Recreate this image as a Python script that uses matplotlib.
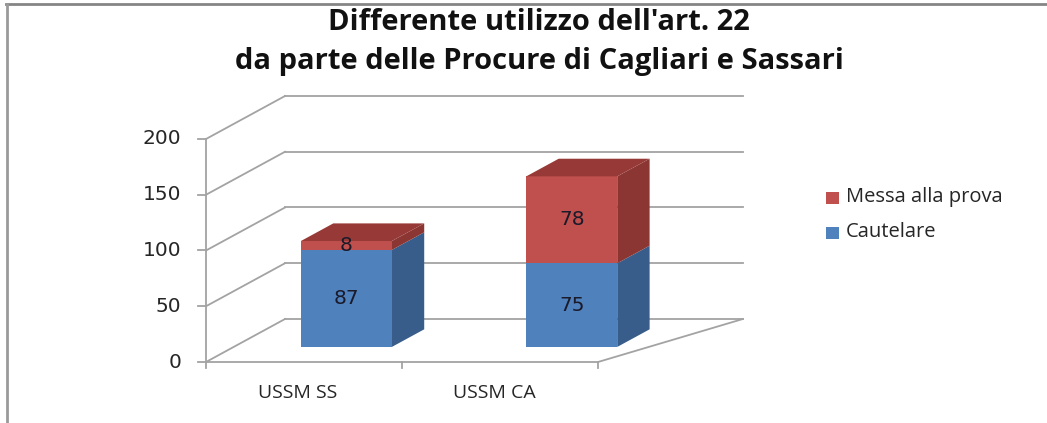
import numpy as np
import matplotlib
matplotlib.use("Agg")
import matplotlib.pyplot as plt
from matplotlib.patches import Polygon
from matplotlib.lines import Line2D

# data
categories = ["USSM SS", "USSM CA"]
cautelare = [87, 75]
messa_prova = [8, 78]
series_names = ["Cautelare", "Messa alla prova"]
yticks = [0, 50, 100, 150, 200]

title_lines = ["Differente utilizzo dell'art. 22",
               "da parte delle Procure di Cagliari e Sassari"]

W, H = 1047, 423
fig = plt.figure(figsize=(W / 100, H / 100), dpi=100)

# front plane: x=0 at px 206, 196 px per category; y=0 at px 362, 1.115 px per unit
px0, py0, sx, sy = 206, 362, 196.0, 1.115
ax_l, ax_r, ax_t, ax_b = 150, 770, 80, 405
ax = fig.add_axes([ax_l / W, 1 - ax_b / H, (ax_r - ax_l) / W, (ax_b - ax_t) / H])
ax.set_xlim((ax_l - px0) / sx, (ax_r - px0) / sx)
ax.set_ylim((py0 - ax_b) / sy, (py0 - ax_t) / sy)
ax.axis("off")

# oblique depth (full depth = 79 px right, 43 px up)
DX, DY = 79 / sx, 43 / sy
ymax = 200
n = len(categories)
back_stretch = 1.168  # back wall a bit wider (Excel perspective)


def proj(x, y, z):
    return (x + z * DX, y + z * DY)


grid_c = "#a3a3a3"
glw = 1.3
txt_c = "#262626"

# back wall gridlines + left wall diagonals
for y in yticks:
    a = proj(0, y, 1)
    b = proj(n * back_stretch, y, 1)
    ax.add_line(Line2D([a[0], b[0]], [a[1], b[1]], color=grid_c, lw=glw))
    c = proj(0, y, 0)
    ax.add_line(Line2D([c[0], a[0]], [c[1], a[1]], color=grid_c, lw=glw))
    # y tick
    ax.add_line(Line2D([c[0] - 8 / sx, c[0]], [y, y], color=grid_c, lw=glw))
    ax.text(c[0] - 25 / sx, y, str(y), ha="right", va="center",
            fontsize=14.5, color=txt_c, family="DejaVu Sans")

# left axis and floor
ax.add_line(Line2D([0, 0], [0, ymax], color=grid_c, lw=glw))
ax.add_line(Line2D([0, n], [0, 0], color=grid_c, lw=glw))
fr = proj(n * back_stretch, 0, 1)
ax.add_line(Line2D([n, fr[0]], [0, fr[1]], color=grid_c, lw=glw))
for i in range(n + 1):
    ax.add_line(Line2D([i, i], [0, -6 / sy], color=grid_c, lw=glw))
for i, cat in enumerate(categories):
    ax.text(i + 0.47, -31 / sy, cat, ha="center", va="center",
            fontsize=14, color=txt_c, family="Open Sans")

# bars
colors = {
    "Cautelare": ("#4f81bd", "#385d8a", "#4a76ad"),
    "Messa alla prova": ("#c0504d", "#8b3633", "#973a37"),
}
bw = 0.464
z0, z1 = 0.35, 0.76
centers = (np.arange(n) + 0.5) * 1.15
stacks = [cautelare, messa_prova]
for i in range(n):
    x0, x1 = centers[i] - bw / 2, centers[i] + bw / 2
    base = 0
    for s, name in enumerate(series_names):
        v = stacks[s][i]
        front, side, top = colors[name]
        y0, y1 = base, base + v
        face = [proj(x0, y0, z0), proj(x1, y0, z0), proj(x1, y1, z0), proj(x0, y1, z0)]
        rside = [proj(x1, y0, z0), proj(x1, y0, z1), proj(x1, y1, z1), proj(x1, y1, z0)]
        ax.add_patch(Polygon(rside, closed=True, facecolor=side, edgecolor="none", zorder=3))
        ax.add_patch(Polygon(face, closed=True, facecolor=front, edgecolor="none", zorder=3))
        if s == len(series_names) - 1:
            tface = [proj(x0, y1, z0), proj(x1, y1, z0), proj(x1, y1, z1), proj(x0, y1, z1)]
            ax.add_patch(Polygon(tface, closed=True, facecolor=top, edgecolor="none", zorder=3))
        cx, cy = proj((x0 + x1) / 2, (y0 + y1) / 2, z0)
        ax.text(cx, cy, str(v), ha="center", va="center", fontsize=14.5,
                color="#1a1a2a", family="DejaVu Sans", zorder=5)
        base = y1

# legend (manual, Excel style)
leg_items = [("Messa alla prova", 198), ("Cautelare", 233)]
for name, ypx in leg_items:
    fig.patches.append(plt.Rectangle((826 / W, 1 - (ypx + 6) / H), 13 / W, 12 / H,
                                     transform=fig.transFigure, facecolor=colors[name][0],
                                     edgecolor="none"))
    fig.text(846 / W, 1 - (ypx - 1) / H, name, ha="left", va="center", fontsize=14.5,
             color=txt_c, family="Open Sans")

# title, two lines placed separately
for line, ypx in zip(title_lines, [23, 62]):
    fig.text(539 / W, 1 - ypx / H, line, ha="center", va="center", fontsize=21,
             fontweight="bold", family="Open Sans", color="#111111")

# chart frame (top and left edges visible)
fig.add_artist(Line2D([6 / W, 1], [1 - 4 / H, 1 - 4 / H], transform=fig.transFigure,
                      color="#858585", lw=2))
fig.add_artist(Line2D([7 / W, 7 / W], [0, 1 - 4 / H], transform=fig.transFigure,
                      color="#9a9a9a", lw=2))

fig.savefig("out.png", dpi=100)
